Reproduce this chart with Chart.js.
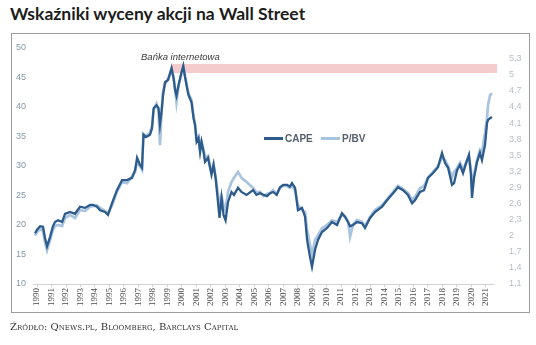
<!DOCTYPE html>
<html>
<head>
<meta charset="utf-8">
<script src="https://cdn.jsdelivr.net/npm/chart.js@4.4.1/dist/chart.umd.min.js"></script>
<style>
  body { margin: 0; width: 536px; height: 345px; background: #fff; position: relative; overflow: hidden; }
  #tytul { position: absolute; left: 10px; top: 3px; font: bold 17.5px Lato, sans-serif; color: #1c1c1c; white-space: nowrap; }
  #ramka { position: absolute; left: 11px; top: 33px; width: 519px; height: 280px; box-sizing: border-box; border: 1px solid #9d9d9d; }
  #wykres { position: absolute; left: 0; top: 0; }
  #zrodlo { position: absolute; left: 10px; top: 321px; font: 10px "DejaVu Serif", serif; font-variant: small-caps; color: #333; white-space: nowrap; }
</style>
</head>
<body>
<div id="tytul">Wskaźniki wyceny akcji na Wall Street</div>
<div id="ramka"></div>
<canvas id="wykres" width="536" height="345"></canvas>
<div id="zrodlo">Źródło: Qnews.pl, Bloomberg, Barclays Capital</div>
<script>
// punkty w czasie (ułamek roku)
const lata = [
  1989.86, 1990.00, 1990.21, 1990.41, 1990.55, 1990.69, 1990.90, 1991.10, 1991.24, 1991.45,
  1991.73, 1991.93, 1992.28, 1992.62, 1992.97, 1993.31, 1993.66, 1993.87, 1994.14, 1994.35,
  1994.70, 1994.90, 1995.18, 1995.52, 1995.87, 1996.22, 1996.56, 1996.77, 1996.91, 1997.11,
  1997.25, 1997.35, 1997.53, 1997.80, 1997.94, 1998.05, 1998.25, 1998.39, 1998.49, 1998.60,
  1998.70, 1998.84, 1999.05, 1999.29, 1999.43, 1999.53, 1999.63, 1999.77, 1999.98, 2000.10,
  2000.22, 2000.36, 2000.46, 2000.67, 2000.81, 2000.91, 2001.02, 2001.15, 2001.26, 2001.36,
  2001.50, 2001.60, 2001.81, 2001.95, 2002.05, 2002.19, 2002.33, 2002.47, 2002.60, 2002.74,
  2002.88, 2003.02, 2003.19, 2003.43, 2003.60, 2003.88, 2004.12, 2004.47, 2004.92, 2005.15,
  2005.40, 2005.65, 2005.88, 2006.10, 2006.30, 2006.55, 2006.78, 2007.00, 2007.27, 2007.45,
  2007.61, 2007.82, 2008.02, 2008.30, 2008.51, 2008.65, 2008.85, 2008.99, 2009.20, 2009.41,
  2009.68, 2010.03, 2010.37, 2010.72, 2011.06, 2011.27, 2011.48, 2011.62, 2011.82, 2012.10,
  2012.44, 2012.65, 2013.00, 2013.34, 2013.83, 2014.17, 2014.59, 2014.93, 2015.28, 2015.62,
  2015.90, 2016.10, 2016.45, 2016.73, 2017.00, 2017.35, 2017.69, 2017.97, 2018.18, 2018.39,
  2018.66, 2018.80, 2019.01, 2019.21, 2019.42, 2019.70, 2019.83, 2019.97, 2020.04, 2020.18,
  2020.39, 2020.59, 2020.73, 2020.94, 2021.08, 2021.15, 2021.29, 2021.42
];

// CAPE (lewa oś)
const cape = [
  18.6, 19.2, 19.8, 19.7, 17.8, 16.4, 18.0, 19.8, 20.5, 20.8,
  20.5, 21.9, 22.2, 21.9, 23.1, 22.9, 23.4, 23.4, 23.1, 22.5,
  22.2, 21.7, 23.7, 25.9, 27.6, 27.6, 28.0, 29.3, 31.4, 30.2,
  29.7, 35.3, 34.9, 35.3, 36.4, 39.8, 40.3, 39.8, 37.0, 39.2,
  42.0, 44.2, 44.6, 46.6, 44.9, 42.9, 41.9, 43.7, 45.9, 47.0,
  45.1, 43.2, 42.0, 40.8, 38.1, 37.0, 34.1, 34.7, 32.4, 34.1,
  32.4, 30.7, 31.4, 29.7, 28.5, 30.2, 28.0, 24.6, 21.2, 24.6,
  21.7, 20.8, 23.9, 25.6, 25.1, 26.3, 25.6, 25.1, 25.9, 25.1,
  25.4, 25.1, 24.9, 25.4, 25.6, 25.1, 26.4, 26.8, 26.8, 26.5,
  27.1, 26.3, 22.5, 22.9, 21.4, 17.5, 14.6, 12.9, 15.8, 17.5,
  18.8, 19.5, 20.5, 20.0, 22.0, 21.4, 20.5, 19.8, 20.0, 20.5,
  20.3, 19.5, 21.2, 22.2, 23.1, 24.2, 25.4, 26.4, 25.9, 25.1,
  23.7, 24.2, 25.6, 25.9, 28.0, 28.8, 29.8, 32.2, 30.5, 29.7,
  26.8, 27.1, 29.3, 30.2, 28.8, 31.0, 31.9, 28.5, 24.6, 28.0,
  30.7, 32.2, 31.0, 33.6, 37.3, 37.8, 38.1, 38.3
];

// P/BV (prawa oś)
const pbv = [
  2.00, 2.07, 2.13, 2.09, 1.88, 1.73, 1.92, 2.11, 2.18, 2.20,
  2.18, 2.33, 2.39, 2.33, 2.48, 2.46, 2.54, 2.55, 2.57, 2.52,
  2.46, 2.41, 2.57, 2.82, 3.00, 2.98, 3.11, 3.19, 3.37, 3.30,
  3.23, 3.90, 3.86, 3.92, 4.05, 4.34, 4.46, 4.34, 3.69, 4.31,
  4.68, 4.83, 4.92, 5.09, 4.94, 4.75, 4.49, 4.79, 5.03, 5.13,
  4.98, 4.79, 4.66, 4.53, 4.23, 4.08, 3.82, 3.86, 3.60, 3.75,
  3.60, 3.45, 3.49, 3.30, 3.19, 3.34, 3.11, 2.82, 2.57, 2.74,
  2.57, 2.48, 2.82, 3.00, 3.08, 3.19, 3.08, 3.00, 2.89, 2.80,
  2.82, 2.74, 2.78, 2.80, 2.85, 2.78, 2.89, 2.93, 2.93, 2.89,
  2.93, 2.85, 2.57, 2.48, 2.44, 2.11, 1.83, 1.64, 1.92, 2.01,
  2.14, 2.20, 2.29, 2.26, 2.39, 2.35, 2.26, 1.98, 2.20, 2.29,
  2.26, 2.18, 2.35, 2.48, 2.57, 2.68, 2.82, 2.93, 2.87, 2.80,
  2.67, 2.72, 2.89, 2.93, 3.08, 3.19, 3.30, 3.45, 3.41, 3.30,
  3.09, 3.19, 3.26, 3.36, 3.23, 3.41, 3.47, 3.23, 2.95, 3.13,
  3.41, 3.60, 3.56, 3.92, 4.21, 4.44, 4.62, 4.66
];

const lewaOs = [10, 15, 20, 25, 30, 35, 40, 45, 50];
const prawaOs = [1.1, 1.4, 1.7, 2.0, 2.3, 2.6, 2.9, 3.2, 3.5, 3.8, 4.1, 4.4, 4.7, 5.0, 5.3];

const kolorCape = '#2d5b8b';
const kolorPbv = '#a9c4de';

// okres bańki internetowej
const bankaOd = 1999.32;
const bankaDo = 2021.77;

const polacz = (wartosci) => lata.map((r, i) => ({ x: r, y: wartosci[i] }));
const przecinek = (v) => Number.isInteger(v) ? String(v) : v.toFixed(1).replace('.', ',');

const dodatki = {
  id: 'dodatki',
  beforeDatasetsDraw(chart) {
    const { ctx, scales: { x, y } } = chart;
    const x0 = x.getPixelForValue(bankaOd);
    const x1 = x.getPixelForValue(bankaDo);
    const y0 = y.getPixelForValue(47.3);
    const y1 = y.getPixelForValue(45.76);
    ctx.save();
    ctx.fillStyle = '#f4ccce';
    ctx.fillRect(x0, y0, x1 - x0, y1 - y0);
    ctx.font = 'italic 9.5px "Liberation Sans"';
    ctx.fillStyle = '#3a3a3a';
    ctx.textBaseline = 'middle';
    ctx.fillText('Bańka internetowa', x.getPixelForValue(1997.18), y.getPixelForValue(48.47));
    ctx.restore();
  },
  afterDatasetsDraw(chart) {
    const { ctx } = chart;
    const lx = 264, ly = 138.5;
    ctx.save();
    ctx.lineWidth = 3;
    ctx.strokeStyle = kolorCape;
    ctx.beginPath(); ctx.moveTo(lx, ly); ctx.lineTo(lx + 19, ly); ctx.stroke();
    ctx.strokeStyle = kolorPbv;
    ctx.beginPath(); ctx.moveTo(lx + 57, ly); ctx.lineTo(lx + 76, ly); ctx.stroke();
    ctx.font = 'bold 10px "Liberation Sans"';
    ctx.fillStyle = '#56606e';
    ctx.textBaseline = 'middle';
    ctx.fillText('CAPE', lx + 21, ly + 0.5);
    ctx.fillText('P/BV', lx + 78, ly + 0.5);
    ctx.restore();
  }
};

new Chart(document.getElementById('wykres'), {
  type: 'line',
  data: {
    datasets: [
      { label: 'CAPE', data: polacz(cape), yAxisID: 'y', borderColor: kolorCape, borderWidth: 2.3 },
      { label: 'P/BV', data: polacz(pbv), yAxisID: 'y1', borderColor: kolorPbv, borderWidth: 2.7 }
    ]
  },
  options: {
    responsive: false,
    animation: false,
    parsing: false,
    elements: { point: { radius: 0 }, line: { tension: 0 } },
    layout: { padding: { top: 48, left: 0, right: 0, bottom: 0 } },
    plugins: { legend: { display: false }, tooltip: { enabled: false } },
    scales: {
      x: {
        type: 'linear',
        min: 1989.72,
        max: 2021.56,
        afterFit: (s) => { s.height = 61; },
        grid: { drawOnChartArea: false, drawTicks: true, tickLength: 3, color: '#d3d3d3' },
        border: { color: '#d3d3d3' },
        ticks: {
          stepSize: 1, includeBounds: false, autoSkip: false,
          minRotation: 90, maxRotation: 90, padding: 1,
          font: { family: '"Liberation Serif"', size: 9 }, color: '#4a4a4a',
          callback: (v) => String(v)
        }
      },
      y: {
        position: 'left',
        min: 10, max: 50,
        afterFit: (s) => { s.width = 33; },
        afterBuildTicks: (s) => { s.ticks = lewaOs.map((v) => ({ value: v })); },
        grid: { display: false, drawTicks: false },
        border: { display: false },
        ticks: { padding: 7, font: { family: '"Liberation Sans"', size: 9 }, color: '#8597ab' }
      },
      y1: {
        position: 'right',
        min: 1.1, max: 5.5,
        afterFit: (s) => { s.width = 42; },
        afterBuildTicks: (s) => { s.ticks = prawaOs.map((v) => ({ value: v })); },
        grid: { display: false, drawTicks: false },
        border: { display: false },
        ticks: { padding: 15, font: { family: '"Liberation Sans"', size: 9 }, color: '#b9bfc7', callback: przecinek }
      }
    }
  },
  plugins: [dodatki]
});
</script>
</body>
</html>
